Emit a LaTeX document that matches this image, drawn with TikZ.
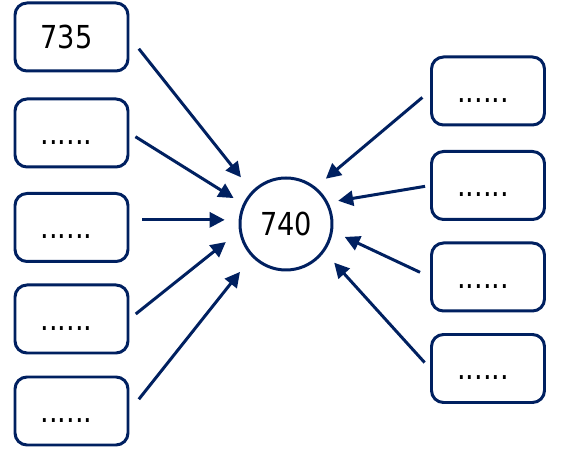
\documentclass[tikz,border=0pt]{standalone}
\usepackage{fontspec}
\setmainfont{DejaVu Sans}[FakeStretch=0.86]
\usetikzlibrary{arrows.meta}
\definecolor{navy}{HTML}{002060}

\begin{document}
\begin{tikzpicture}[
    box/.style = {draw=navy, line width=1.7pt, rounded corners=0.24cm,
        minimum width=2.26cm, minimum height=1.36cm,
        font={\fontsize{18}{18}\selectfont}, text height=13pt, text depth=0pt,
        execute at end node={\hspace{0.2cm}}},
    hub/.style = {draw=navy, line width=1.7pt, circle, minimum size=1.84cm,
        inner sep=0pt, font={\fontsize{18}{18}\selectfont}},
    arr/.style = {navy, line width=1.7pt, -{Triangle[length=0.3cm, width=0.3cm]}}
]
    \useasboundingbox (0,0) rectangle (11.34,9.04);

    % centre
    \node[hub] (c) at (5.72, 4.56) {740};

    % left column
    \node[box] (l1) at (1.43, 8.30) {735};
    \node[box] (l2) at (1.43, 6.38) {......};
    \node[box] (l3) at (1.43, 4.49) {......};
    \node[box] (l4) at (1.43, 2.66) {......};
    \node[box] (l5) at (1.43, 0.82) {......};

    % right column
    \node[box] (r1) at (9.76, 7.22) {......};
    \node[box] (r2) at (9.76, 5.33) {......};
    \node[box] (r3) at (9.76, 3.50) {......};
    \node[box] (r4) at (9.76, 1.67) {......};

    % arrows into the centre
    \draw[arr, shorten <=0.3cm, shorten >=0.35cm] (l1.east) -- (c.136);
    \draw[arr, shorten <=0.14cm, shorten >=0.22cm] (l2.east) -- (c.155);
    \draw[arr, shorten <=0.26cm, shorten >=0.28cm] (l3.east |- c.175) -- (c.175);
    \draw[arr, shorten <=0.16cm, shorten >=0.34cm] (l4.east) -- (c.189);
    \draw[arr, shorten <=0.3cm, shorten >=0.38cm] (l5.east) -- (c.224);
    \draw[arr, shorten <=0.2cm, shorten >=0.26cm] (r1.west) -- (c.51);
    \draw[arr, shorten <=0.1cm, shorten >=0.2cm] (r2.west) -- (c.27);
    \draw[arr, shorten <=0.22cm, shorten >=0.26cm] (r3.west) -- (c.-9);
    \draw[arr, shorten <=0.16cm, shorten >=0.29cm] (r4.west) -- (c.-36);
\end{tikzpicture}
\end{document}
